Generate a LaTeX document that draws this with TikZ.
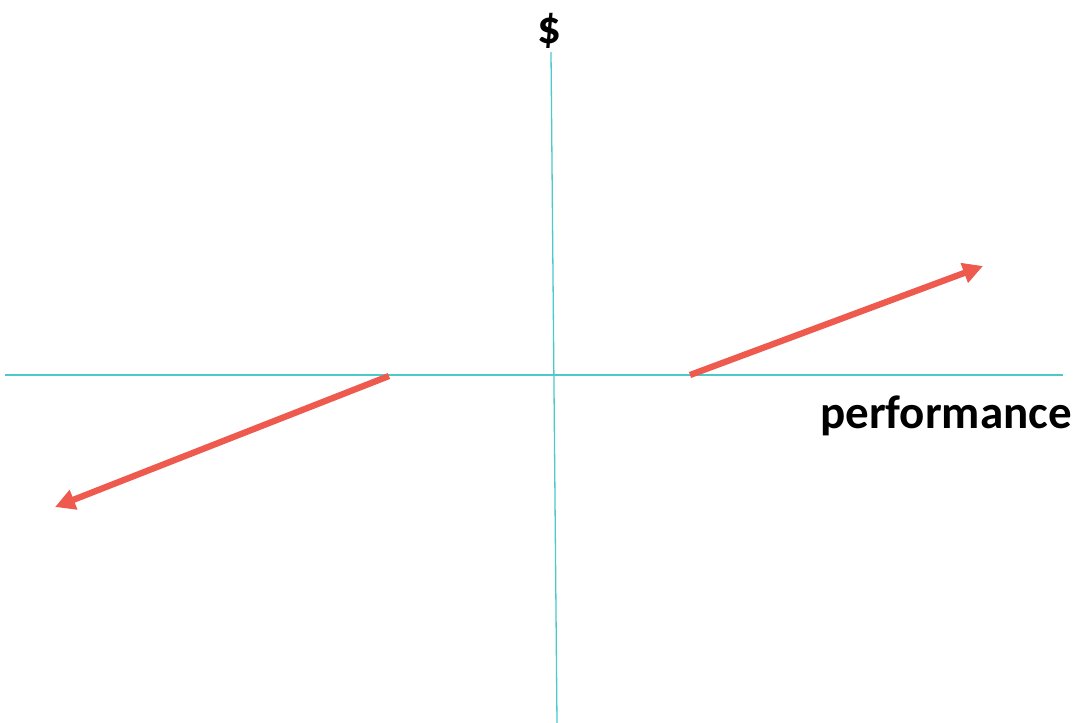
\documentclass[tikz,border=0pt]{standalone}
\usepackage{fontspec}
\setmainfont{Carlito}
\usetikzlibrary{arrows.meta}
\definecolor{axiscol}{HTML}{4CC9C9}
\definecolor{arrowcol}{HTML}{EF5A4F}
\begin{document}
\begin{tikzpicture}[x=1pt,y=-1pt,
  axis/.style={draw=axiscol,line width=1.3pt},
  trend/.style={draw=arrowcol,line width=6.3pt,-{Triangle[length=20pt,width=20pt]}},
  lbl/.style={font=\bfseries\fontsize{47}{52}\selectfont,inner sep=0pt}]
\useasboundingbox (0,0) rectangle (1077,723);
\coordinate (xl) at (5,375);
\coordinate (xr) at (1063,375);
\coordinate (yt) at (551,52);
\coordinate (yb) at (557,723);
\draw[axis] (xl) -- (xr);
\draw[axis] (yt) -- (yb);
\coordinate (r1) at (690,375);
\coordinate (r2) at (983,266);
\coordinate (l1) at (389,376);
\coordinate (l2) at (55,507);
\draw[trend] (r1) -- (r2);
\draw[trend] (l1) -- (l2);
\node[lbl] (dollar) at (549,31) {\$};
\node[lbl] (perf) at (946,416) {performance};
\end{tikzpicture}
\end{document}
